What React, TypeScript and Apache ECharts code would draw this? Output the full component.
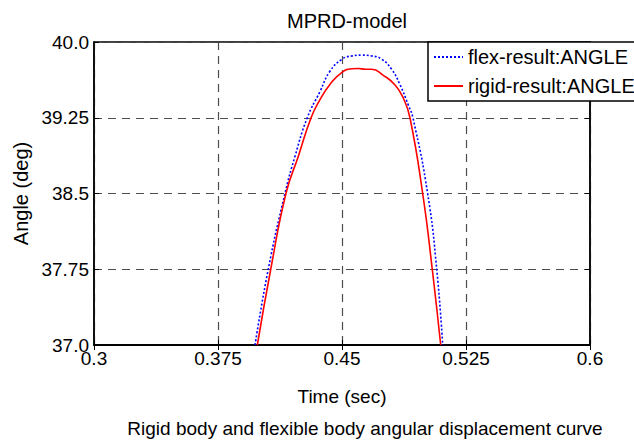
import React, { useEffect, useRef } from "react";
import * as echarts from "echarts";

const Y_BASE = 37;
const xTicks = [0.3, 0.375, 0.45, 0.525, 0.6];
const yTickLabels = ["37.0", "37.75", "38.5", "39.25", "40.0"];

const timeFlex = [0.3974, 0.4054, 0.4155, 0.4216, 0.429, 0.4367, 0.4427, 0.45, 0.456, 0.462, 0.468, 0.474, 0.48, 0.485, 0.49, 0.4929, 0.5018, 0.5073, 0.5109];
const angleFlex = [37.0, 37.75, 38.5, 38.87, 39.25, 39.51, 39.71, 39.83, 39.862, 39.87, 39.862, 39.83, 39.73, 39.58, 39.38, 39.25, 38.5, 37.75, 37.0];

const timeRigid = [0.3988, 0.4069, 0.4161, 0.4236, 0.4313, 0.4367, 0.4427, 0.45, 0.456, 0.46, 0.464, 0.468, 0.475, 0.4821, 0.4871, 0.4911, 0.4988, 0.5046, 0.5097];
const angleRigid = [37.0, 37.75, 38.5, 38.87, 39.25, 39.43, 39.58, 39.7, 39.735, 39.738, 39.73, 39.73, 39.67, 39.574, 39.443, 39.25, 38.5, 37.75, 37.0];

const FONT = "'Liberation Sans', Arial, Helvetica, sans-serif";

export default function App() {
  const ref = useRef<HTMLDivElement>(null);
  useEffect(() => {
    if (!ref.current) return;
    const chart = echarts.init(ref.current, undefined, { renderer: "svg" });
    const gridStyle = { show: true, lineStyle: { color: "#4d4d4d", width: 1.2, type: [8, 6] as any } };
    chart.setOption({
      animation: false,
      backgroundColor: "#fff",
      textStyle: { fontFamily: FONT },
      title: {
        text: "MPRD-model",
        left: 342,
        top: 6,
        textAlign: "center",
        textStyle: { fontSize: 20, fontWeight: "normal", color: "#000", fontFamily: FONT },
      },
      legend: {
        orient: "vertical",
        left: 428,
        top: 42,
        backgroundColor: "#fff",
        borderColor: "#000",
        borderWidth: 1.5,
        padding: [5, 40, 5, 5],
        itemGap: 9,
        itemWidth: 29,
        itemHeight: 10,
        itemStyle: { opacity: 0 },
        textStyle: { fontSize: 20, color: "#000", fontFamily: FONT },
        data: ["flex-result:ANGLE", "rigid-result:ANGLE"],
      },
      grid: {
        left: 94,
        top: 42,
        width: 496,
        height: 303,
        show: true,
        borderColor: "#000",
        borderWidth: 1.5,
        backgroundColor: "#fff",
      },
      xAxis: [
        {
          type: "value",
          min: xTicks[0],
          max: xTicks[xTicks.length - 1],
          interval: 0.075,
          name: "Time (sec)",
          nameLocation: "middle",
          nameGap: 42,
          nameTextStyle: { fontSize: 19, color: "#000", fontFamily: FONT },
          axisLine: { show: true, lineStyle: { color: "#000", width: 1.5 } },
          axisTick: { show: true, inside: true, length: 5, lineStyle: { color: "#000" } },
          axisLabel: {
            fontSize: 19,
            color: "#000",
            margin: 4,
            fontFamily: FONT,
            formatter: (v: number) => {
              const m = xTicks.find((t) => Math.abs(t - v) < 1e-6);
              return m !== undefined ? String(m) : "";
            },
          },
          splitLine: gridStyle,
        },
        {
          type: "value",
          position: "top",
          min: xTicks[0],
          max: xTicks[xTicks.length - 1],
          interval: 0.075,
          axisLine: { show: true, lineStyle: { color: "#000", width: 1.5 } },
          axisTick: { show: true, inside: true, length: 5, lineStyle: { color: "#000" } },
          axisLabel: { show: false },
          splitLine: { show: false },
        },
      ],
      yAxis: [
        {
          type: "value",
          min: 0,
          max: 3,
          interval: 0.75,
          name: "Angle (deg)",
          nameLocation: "middle",
          nameGap: 56,
          nameRotate: 90,
          nameTextStyle: { fontSize: 20, color: "#000", fontFamily: FONT },
          axisLine: { show: true, lineStyle: { color: "#000", width: 1.5 } },
          axisTick: { show: true, inside: true, length: 5, lineStyle: { color: "#000" } },
          axisLabel: {
            fontSize: 19,
            color: "#000",
            margin: 5,
            fontFamily: FONT,
            formatter: (v: number) => yTickLabels[Math.round(v / 0.75)] ?? "",
          },
          splitLine: gridStyle,
        },
        {
          type: "value",
          position: "right",
          min: 0,
          max: 3,
          interval: 0.75,
          axisLine: { show: true, lineStyle: { color: "#000", width: 1.5 } },
          axisTick: { show: true, inside: true, length: 5, lineStyle: { color: "#000" } },
          axisLabel: { show: false },
          splitLine: { show: false },
        },
      ],
      graphic: [
        {
          type: "text",
          x: 365,
          y: 428,
          style: {
            text: "Rigid body and flexible body angular displacement curve",
            fontSize: 19,
            fill: "#000",
            fontFamily: FONT,
            textAlign: "center",
            textVerticalAlign: "middle",
          },
        },
      ],
      series: [
        {
          name: "flex-result:ANGLE",
          type: "line",
          symbol: "none",
          smooth: 0.5,
          clip: true,
          z: 3,
          lineStyle: { color: "#0000ff", width: 1.6, type: [2, 2] },
          itemStyle: { color: "#0000ff" },
          data: timeFlex.map((t, i) => [t, angleFlex[i] - Y_BASE]),
        },
        {
          name: "rigid-result:ANGLE",
          type: "line",
          symbol: "none",
          smooth: 0.5,
          clip: true,
          z: 4,
          lineStyle: { color: "#ff0000", width: 1.6, type: "solid" },
          itemStyle: { color: "#ff0000" },
          data: timeRigid.map((t, i) => [t, angleRigid[i] - Y_BASE]),
        },
      ],
    });
    return () => chart.dispose();
  }, []);
  return (
    <div
      ref={ref}
      style={{ position: "fixed", left: 0, top: 0, width: 634, height: 443, background: "#fff" }}
    />
  );
}
